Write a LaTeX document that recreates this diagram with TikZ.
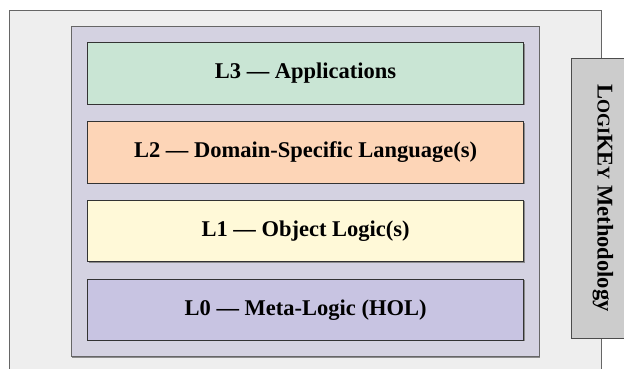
\documentclass[tikz,border=0pt]{standalone}
\usepackage{fontspec}
\setmainfont{Liberation Serif}
\definecolor{outerbg}{HTML}{EEEEEE}
\definecolor{contbg}{HTML}{D4D2E1}
\definecolor{lthree}{HTML}{C9E5D4}
\definecolor{ltwo}{HTML}{FDD5B7}
\definecolor{lone}{HTML}{FFF9D8}
\definecolor{lzero}{HTML}{C8C4E2}
\definecolor{sidebg}{HTML}{CCCCCC}
\newcommand{\mysc}[1]{{\fontsize{18}{21}\selectfont #1}}
\begin{document}
\begin{tikzpicture}[x=1pt,y=-1pt,
  layerbox/.style={draw=black!80, line width=0.8pt, minimum width=436pt, minimum height=61.5pt,
    inner sep=0pt, font=\fontsize{22.5}{26}\selectfont\bfseries},
  shadowbox/.style={fill=black!45, draw=none, minimum width=436pt, minimum height=61.5pt, inner sep=0pt},
  framebox/.style={draw=black!60, line width=0.9pt}]
\clip (0,0) rectangle (624,369);
\useasboundingbox (0,0) rectangle (624,369);
% outer frame
\draw[framebox, fill=outerbg] (9.3,10) rectangle (601.7,380);
% container
\fill[black!45] (72.3,27.7) rectangle (540.3,357.7);
\draw[framebox, fill=contbg] (71.3,26.7) rectangle (539.3,356.7);
% layers
\foreach \yy in {73.5,152.3,231,309.7}{
  \node[shadowbox] at (306.6,\yy+1) {};
}
\node[layerbox, fill=lthree] (l3) at (305.6,73.5) {L3 — Applications};
\node[layerbox, fill=ltwo] (l2) at (305.6,152.3) {L2 — Domain-Specific Language(s)};
\node[layerbox, fill=lone] (l1) at (305.6,231) {L1 — Object Logic(s)};
\node[layerbox, fill=lzero] (l0) at (305.6,309.7) {L0 — Meta-Logic (HOL)};
% side box
\node[draw=black!70, line width=0.8pt, fill=sidebg, minimum width=70pt, minimum height=280pt,
  anchor=north west, inner sep=0pt] (side) at (570.7,58) {};
\node[rotate=-90, font=\fontsize{22.5}{26}\selectfont\bfseries, inner sep=0pt] (lbl) at (603,198)
  {L\mysc{OGI}KE\mysc{Y} Methodology};
\end{tikzpicture}
\end{document}
